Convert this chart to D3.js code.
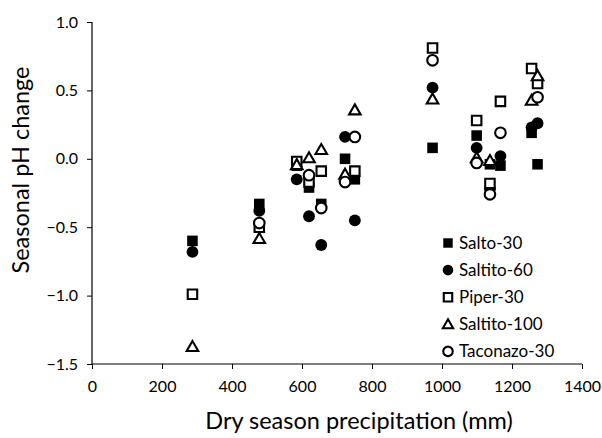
<!DOCTYPE html>
<html lang="en">
<head>
    <meta charset="UTF-8">
    <title>seasonal pH change</title>
    <script src="https://cdn.jsdelivr.net/npm/d3@7"></script>
    <style>
        body{
            margin: 0;
            background: #ffffff;
        }
        text{
            font-family: Lato, "Noto Sans", sans-serif;
            fill: #000;
        }
    </style>
</head>
<body>
<svg width="602" height="438" id="main"></svg>

<script>
    // dry season precipitation (mm), one value per sampling point
    let precip = [287, 478, 585, 620, 655, 723, 751, 973, 1099, 1137, 1167, 1256, 1273];

    // seasonal pH change for every series (null = no point)
    let salto30 = [-0.60, -0.33, -0.05, -0.21, -0.33, 0.00, -0.15, 0.08, 0.17, -0.04, -0.05, 0.19, -0.04];
    let saltito60 = [-0.68, -0.38, -0.15, -0.42, -0.63, 0.16, -0.45, 0.52, 0.08, -0.22, 0.02, 0.23, 0.26];
    let piper30 = [-0.99, -0.50, -0.02, -0.17, -0.09, null, -0.09, 0.81, 0.28, -0.18, 0.42, 0.66, 0.55];
    let saltito100 = [-1.37, -0.58, -0.04, 0.01, 0.07, -0.11, 0.36, 0.44, 0.01, -0.01, null, 0.43, 0.61];
    let taconazo30 = [null, -0.47, null, -0.12, -0.36, -0.17, 0.16, 0.72, -0.03, -0.26, 0.19, null, 0.45];

    let seriesNames = ["Salto-30", "Saltito-60", "Piper-30", "Saltito-100", "Taconazo-30"];
    let seriesValues = [salto30, saltito60, piper30, saltito100, taconazo30];
    let seriesShapes = ["square", "circle", "square", "triangle", "circle"];
    let seriesFilled = [true, true, false, false, false];

    let xTicks = [0, 200, 400, 600, 800, 1000, 1200, 1400];
    let yTicks = [1.0, 0.5, 0.0, -0.5, -1.0, -1.5];

    let svg = d3.select("#main");

    let x = d3.scaleLinear().domain([0, 1400]).range([92, 582]);
    let y = d3.scaleLinear().domain([-1.5, 1.0]).range([364, 22]);

    // axes
    let xAxis = d3.axisBottom(x)
        .tickValues(xTicks)
        .tickSize(5)
        .tickPadding(12)
        .tickFormat(d3.format("d"));
    let gx = svg.append("g")
        .attr("transform", "translate(0," + y(-1.5) + ")")
        .call(xAxis);

    let yAxis = d3.axisLeft(y)
        .tickValues(yTicks)
        .tickSize(5)
        .tickPadding(9)
        .tickFormat(d3.format(".1f"));
    let gy = svg.append("g")
        .attr("transform", "translate(" + x(0) + ",0)")
        .call(yAxis);

    svg.selectAll(".domain").attr("stroke", "#000").attr("stroke-width", 1.2);
    svg.selectAll(".tick line").attr("stroke", "#000");
    svg.selectAll(".tick text")
        .style("font-size", "16px")
        .style("font-family", "Lato, 'Noto Sans', sans-serif");
    gx.select(".domain").attr("d", "M" + x(0) + ",0H" + x(1400));
    gy.select(".domain").attr("d", "M0," + y(1.0) + "V" + y(-1.5));

    // axis titles
    svg.append("text")
        .attr("x", 359)
        .attr("y", 429)
        .attr("text-anchor", "middle")
        .style("font-size", "23.5px")
        .text("Dry season precipitation (mm)");

    svg.append("text")
        .attr("transform", "translate(29,170) rotate(-90)")
        .attr("text-anchor", "middle")
        .style("font-size", "23.5px")
        .text("Seasonal pH change");

    // marker drawing
    let symbolSize = {square: 112, circle: 110, triangle: 72};
    function symbolType(shape){
        if (shape === "square") {
            return d3.symbolSquare
        } else if (shape === "circle") {
            return d3.symbolCircle
        } else {
            return d3.symbolTriangle
        }
    }

    function drawMarker(g, shape, filled, scale){
        let size = symbolSize[shape] * scale;
        if (!filled) size = size * 0.8;
        g.append("path")
            .attr("d", d3.symbol().type(symbolType(shape)).size(size)())
            .attr("fill", filled ? "#000" : "#fff")
            .attr("stroke", "#000")
            .attr("stroke-width", filled ? 0 : 2.1);
    }

    // points, series in legend order so later series sit on top
    seriesValues.forEach(function (values, i){
        let pts = values.map(function (v, j){
            return {x: precip[j], y: v};
        }).filter(d => d.y !== null);

        let g = svg.append("g").attr("class", "series");
        pts.forEach(function (d){
            let shift = seriesShapes[i] === "triangle" ? 1.5 : 0;
            let m = g.append("g")
                .attr("transform", "translate(" + x(d.x) + "," + (y(d.y) + shift) + ")");
            drawMarker(m, seriesShapes[i], seriesFilled[i], 1);
        });
    });

    // legend
    let legend = svg.append("g");
    seriesNames.forEach(function (name, i){
        let row = legend.append("g")
            .attr("transform", "translate(448," + (243 + i * 27.1) + ")");
        let m = row.append("g")
            .attr("transform", "translate(0," + (seriesShapes[i] === "triangle" ? 1 : 0) + ")");
        drawMarker(m, seriesShapes[i], seriesFilled[i], 0.8);
        row.append("text")
            .attr("x", 11)
            .attr("y", 6)
            .style("font-size", "17px")
            .text(name);
    });
</script>

</body>
</html>
